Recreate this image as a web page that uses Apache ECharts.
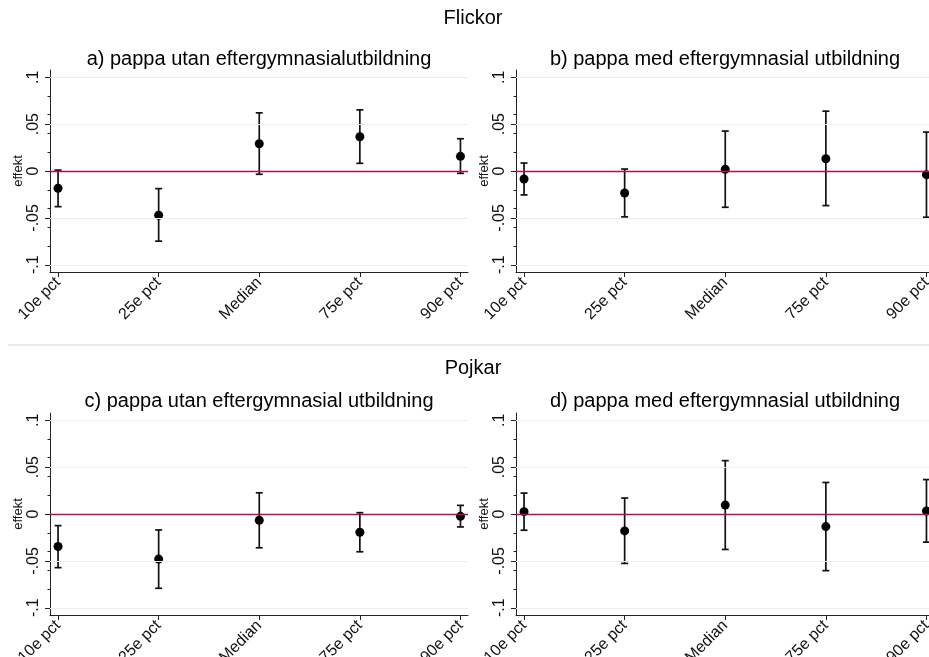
<!DOCTYPE html>
<html>
<head>
<meta charset="utf-8">
<script src="https://cdn.jsdelivr.net/npm/echarts@6/dist/echarts.min.js"></script>
<style>html,body{margin:0;padding:0;background:#fff}#chart{width:929px;height:657px}</style>
</head>
<body>
<div id="chart"></div>
<script>
// ---- data ----
const categories = ['10e pct', '25e pct', 'Median', '75e pct', '90e pct'];
const yTickValues = [-0.1, -0.05, 0, 0.05, 0.1];
const yTickLabels = ['-.1', '-.05', '0', '.05', '.1'];
const yMinorValues = [-0.1, -0.08, -0.06, -0.04, -0.02, 0, 0.02, 0.04, 0.06, 0.08, 0.1];
const gridValues = [-0.1, -0.05, 0.05, 0.1];
const refValue = 0;

const rowTitles = ['Flickor', 'Pojkar'];
const panelTitles = [
  'a) pappa utan eftergymnasialutbildning',
  'b) pappa med eftergymnasial utbildning',
  'c) pappa utan eftergymnasial utbildning',
  'd) pappa med eftergymnasial utbildning'
];

const estA = [-0.0184, -0.0472, 0.0290, 0.0365, 0.0156];
const loA  = [-0.0380, -0.0748, -0.0035, 0.0082, -0.0025];
const hiA  = [0.0010, -0.0188, 0.0620, 0.0652, 0.0344];

const estB = [-0.0085, -0.0234, 0.0018, 0.0131, -0.0039];
const loB  = [-0.0255, -0.0489, -0.0387, -0.0369, -0.0493];
const hiB  = [0.0085, 0.0021, 0.0426, 0.0638, 0.0415];

const estC = [-0.0346, -0.0481, -0.0067, -0.0194, -0.0025];
const loC  = [-0.0572, -0.0792, -0.0360, -0.0403, -0.0138];
const hiC  = [-0.0124, -0.0170, 0.0226, 0.0014, 0.0092];

const estD = [0.0025, -0.0180, 0.0095, -0.0134, 0.0032];
const loD  = [-0.0173, -0.0527, -0.0378, -0.0604, -0.0300];
const hiD  = [0.0223, 0.0170, 0.0569, 0.0336, 0.0367];

const panels = [
  {est: estA, lo: loA, hi: hiA},
  {est: estB, lo: loB, hi: hiB},
  {est: estC, lo: loC, hi: hiC},
  {est: estD, lo: loD, hi: hiD}
];

// ---- layout ----
const FONT = "'Liberation Sans', Arial, sans-serif";
const gridPos = [
  {left: 50, top: 70, width: 418, height: 202},
  {left: 516, top: 70, width: 418, height: 202},
  {left: 50, top: 413, width: 418, height: 202},
  {left: 516, top: 413, width: 418, height: 202}
];
const titlePos = [[259, 59], [725, 59], [259, 401.7], [725, 401.7]];
const rowTitlePos = [[473, 18.8], [473, 368]];

const axisColor = '#222';
const chart = echarts.init(document.getElementById('chart'), null, {renderer: 'canvas'});

const grids = [], xAxes = [], yAxes = [], series = [];
panels.forEach((p, i) => {
  grids.push(Object.assign({outerBoundsMode: 'none', containLabel: false}, gridPos[i]));
  xAxes.push({
    type: 'value', gridIndex: i, min: 0.92, max: 5.075,
    axisLine: {show: true, onZero: false, lineStyle: {color: axisColor, width: 1}},
    axisTick: {show: true, length: 5, customValues: [1, 2, 3, 4, 5], lineStyle: {color: axisColor}},
    axisLabel: {
      show: true, rotate: 45, margin: 8, fontSize: 16, color: '#111', fontFamily: FONT,
      customValues: [1, 2, 3, 4, 5],
      formatter: v => categories[Math.round(v) - 1]
    },
    splitLine: {show: false}
  });
  yAxes.push({
    type: 'value', gridIndex: i, position: 'left', min: -0.1077, max: 0.1077,
    name: 'effekt', nameLocation: 'middle', nameRotate: 90, nameGap: 25,
    nameTextStyle: {fontSize: 13, color: '#111', fontFamily: FONT},
    axisLine: {show: true, onZero: false, lineStyle: {color: axisColor, width: 1}},
    axisTick: {show: true, length: 5, customValues: yTickValues, lineStyle: {color: axisColor}},
    axisLabel: {
      show: true, rotate: 90, margin: 8, fontSize: 16, color: '#111', fontFamily: FONT,
      customValues: yTickValues,
      formatter: v => {
        const k = yTickValues.findIndex(t => Math.abs(t - v) < 1e-9);
        return k >= 0 ? yTickLabels[k] : '';
      }
    },
    splitLine: {show: false}
  });
  yAxes.push({
    type: 'value', gridIndex: i, position: 'left', min: -0.1077, max: 0.1077,
    axisLine: {show: false, onZero: false},
    axisTick: {show: true, length: 2.5, customValues: yMinorValues, lineStyle: {color: axisColor}},
    axisLabel: {show: false},
    splitLine: {show: false}
  });

  // light gridlines
  series.push({
    type: 'line', xAxisIndex: i, yAxisIndex: 2 * i, data: [], z: 1, silent: true,
    markLine: {
      silent: true, symbol: ['none', 'none'], animation: false, label: {show: false},
      lineStyle: {color: '#e6eef0', width: 1.2, type: 'solid'},
      data: gridValues.map(v => ({yAxis: v}))
    }
  });
  // reference line at zero
  series.push({
    type: 'line', xAxisIndex: i, yAxisIndex: 2 * i, data: [], z: 2, silent: true,
    color: '#b3123d',
    markLine: {
      silent: true, symbol: ['none', 'none'], animation: false, label: {show: false},
      lineStyle: {color: '#b3123d', width: 1.3, type: 'solid'},
      data: [{yAxis: refValue}]
    }
  });
  // error bars
  series.push({
    type: 'custom', xAxisIndex: i, yAxisIndex: 2 * i, z: 3, silent: true,
    data: categories.map((c, k) => [k + 1, p.lo[k], p.hi[k]]),
    encode: {x: 0, y: [1, 2]},
    renderItem: (params, api) => {
      const x = api.value(0);
      const a = api.coord([x, api.value(1)]);
      const b = api.coord([x, api.value(2)]);
      const w = 3.5;
      const st = {stroke: '#111', lineWidth: 1.7};
      return {
        type: 'group',
        children: [
          {type: 'line', shape: {x1: a[0], y1: a[1], x2: b[0], y2: b[1]}, style: st},
          {type: 'line', shape: {x1: a[0] - w, y1: a[1], x2: a[0] + w, y2: a[1]}, style: st},
          {type: 'line', shape: {x1: b[0] - w, y1: b[1], x2: b[0] + w, y2: b[1]}, style: st}
        ]
      };
    }
  });
  // point estimates
  series.push({
    type: 'scatter', xAxisIndex: i, yAxisIndex: 2 * i, z: 4, silent: true,
    symbol: 'circle', symbolSize: 9, itemStyle: {color: '#000', opacity: 1},
    data: p.est.map((v, k) => [k + 1, v])
  });
});

const graphics = [];
rowTitles.forEach((t, r) => {
  graphics.push({
    type: 'text', silent: true,
    style: {text: t, x: rowTitlePos[r][0], y: rowTitlePos[r][1], textAlign: 'center', textVerticalAlign: 'middle',
      font: '20px ' + FONT, fill: '#000'}
  });
});
panelTitles.forEach((t, i) => {
  graphics.push({
    type: 'text', silent: true,
    style: {text: t, x: titlePos[i][0], y: titlePos[i][1], textAlign: 'center', textVerticalAlign: 'middle',
      font: '20px ' + FONT, fill: '#000'}
  });
});
// separator between the two combined graphs
graphics.push({
  type: 'line', silent: true, z: 0,
  shape: {x1: 8, y1: 345, x2: 929, y2: 345},
  style: {stroke: '#e6edf0', lineWidth: 2}
});

chart.setOption({
  animation: false,
  backgroundColor: '#fff',
  grid: grids,
  xAxis: xAxes,
  yAxis: yAxes,
  series: series,
  graphic: graphics
});
</script>
</body>
</html>
